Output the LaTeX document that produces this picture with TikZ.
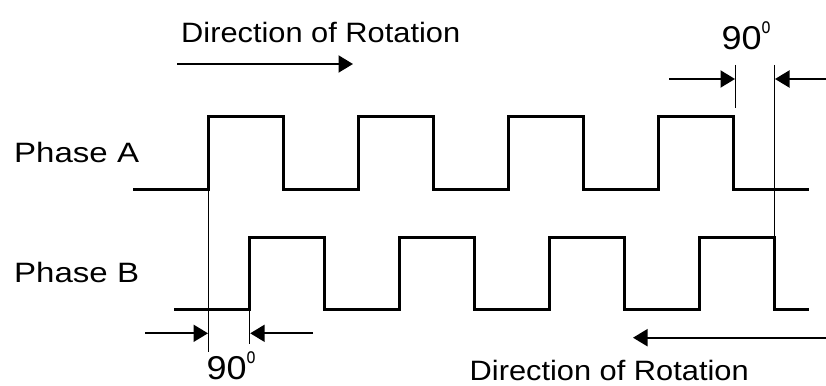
\documentclass[tikz,border=0pt]{standalone}
\usepackage{fontspec}
\setmainfont{Liberation Sans}
\usetikzlibrary{arrows.meta}
\newcommand{\degnine}{\scalebox{1.09}[1]{90}\raisebox{16.5pt}{\fontsize{20}{20}\selectfont\scalebox{0.8}[1.1]{o}}}
\begin{document}
\begin{tikzpicture}[x=1pt,y=-1pt,
  wave/.style={line width=3pt, line join=miter},
  guide/.style={line width=1.3pt},
  dimarrow/.style={line width=2pt, -{Triangle[length=14.5pt,width=17pt]}},
  lbl/.style={inner sep=0pt, anchor=base west, font=\fontsize{28}{30}\selectfont},
  deg/.style={inner sep=0pt, anchor=base west, font=\fontsize{33}{36}\selectfont}]
\useasboundingbox (0,0) rectangle (826,385);

% labels
\node[lbl] (phA) at (14,162.7) {\scalebox{1.18}[1]{Phase A}};
\node[lbl] (phB) at (14,282.7) {\scalebox{1.18}[1]{Phase B}};
\node[lbl] (dirTop) at (181,42.5) {\scalebox{1.1}[1]{Direction of Rotation}};
\node[lbl] (dirBot) at (469.5,380.5) {\scalebox{1.1}[1]{Direction of Rotation}};
\node[deg] (degTop) at (721.3,50) {\degnine};
\node[deg] (degBot) at (206.3,379.5) {\degnine};

% waveforms
\draw[wave] (133,189) foreach \x in {208.7,358.7,508.7,658.7} { -- (\x,189) -- (\x,116) -- (\x+75,116) -- (\x+75,189) } -- (809,189);
\draw[wave] (174,309) foreach \x in {249.5,399.5,549.5,699.5} { -- (\x,309) -- (\x,237.3) -- (\x+75,237.3) -- (\x+75,309) } -- (809,309);

% guide lines
\coordinate (gA1) at (208.7,189);
\coordinate (gA2) at (208.7,352);
\coordinate (gB1) at (249.5,309);
\coordinate (gB2) at (249.5,344);
\coordinate (gC1) at (735.5,65);
\coordinate (gC2) at (735.5,108);
\coordinate (gD1) at (774.5,65);
\coordinate (gD2) at (774.5,237.3);
\draw[guide] (gA1) -- (gA2);
\draw[guide] (gB1) -- (gB2);
\draw[guide] (gC1) -- (gC2);
\draw[guide] (gD1) -- (gD2);

% arrows
\coordinate (aTs) at (177,64);
\coordinate (aTe) at (353,64);
\draw[dimarrow] (aTs) -- (aTe);
\coordinate (aBs) at (826,337.7);
\coordinate (aBe) at (633,337.7);
\draw[dimarrow] (aBs) -- (aBe);

\coordinate (d1s) at (669,79);
\coordinate (d1e) at (735,79);
\draw[dimarrow] (d1s) -- (d1e);
\coordinate (d2s) at (826,79);
\coordinate (d2e) at (775,79);
\draw[dimarrow] (d2s) -- (d2e);

\coordinate (d3s) at (145,333.3);
\coordinate (d3e) at (208,333.3);
\draw[dimarrow] (d3s) -- (d3e);
\coordinate (d4s) at (313,333.3);
\coordinate (d4e) at (250.2,333.3);
\draw[dimarrow] (d4s) -- (d4e);
\end{tikzpicture}
\end{document}
